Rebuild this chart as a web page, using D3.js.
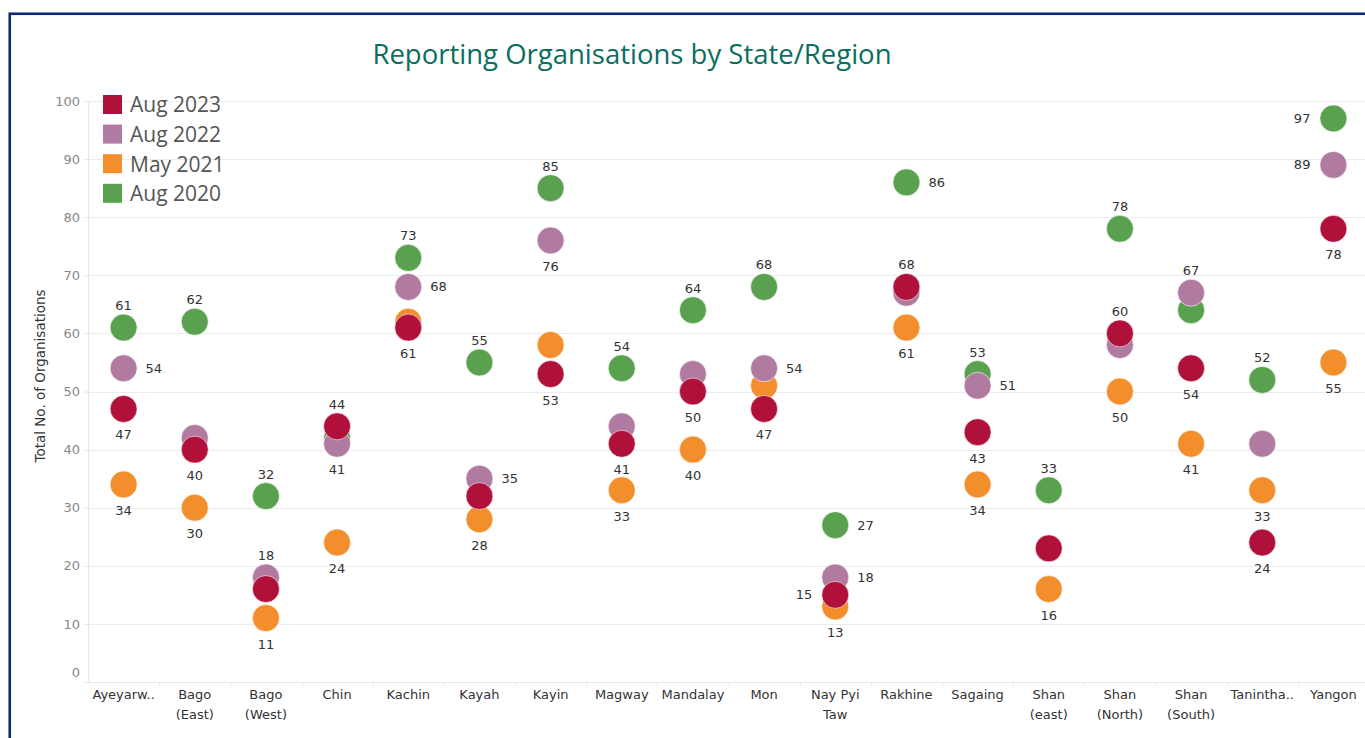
<!DOCTYPE html>
<html>
<head>
<meta charset="utf-8">
<title>Reporting Organisations by State/Region</title>
<script src="https://cdn.jsdelivr.net/npm/d3@7"></script>
<style>
  body { margin: 0; background: #fff; }
  svg { display: block; font-family: "DejaVu Sans", sans-serif; }
</style>
</head>
<body>
<svg id="chart" width="1365" height="738"></svg>
<script>
// categories (line breaks as in the axis)
var categories = ["Ayeyarw..", "Bago\n(East)", "Bago\n(West)", "Chin", "Kachin", "Kayah", "Kayin",
    "Magway", "Mandalay", "Mon", "Nay Pyi\nTaw", "Rakhine", "Sagaing", "Shan\n(east)",
    "Shan\n(North)", "Shan\n(South)", "Tanintha..", "Yangon"];

var aug2020 = [61, 62, 32, 42, 73, 55, 85, 54, 64, 68, 27, 86, 53, 33, 78, 64, 52, 97];
var may2021 = [34, 30, 11, 24, 62, 28, 58, 33, 40, 51, 13, 61, 34, 16, 50, 41, 33, 55];
var aug2022 = [54, 42, 18, 41, 68, 35, 76, 44, 53, 54, 18, 67, 51, null, 58, 67, 41, 89];
var aug2023 = [47, 40, 16, 44, 61, 32, 53, 41, 50, 47, 15, 68, 43, 23, 60, 54, 24, 78];

var yTicks = [0, 10, 20, 30, 40, 50, 60, 70, 80, 90, 100];

// legend order (top to bottom)
var legendNames = ["Aug 2023", "Aug 2022", "May 2021", "Aug 2020"];

// where each mark label sits: a = above, b = below, r = right, l = left, "" = none
var labelSide = {
    "Aug 2020": ["a","a","a","","a","a","a","a","a","a","r","r","a","a","a","","a","l"],
    "May 2021": ["b","b","b","b","","b","","b","b","","b","b","b","b","b","b","b","b"],
    "Aug 2022": ["r","","a","b","r","r","b","","","r","r","","r","","","a","","l"],
    "Aug 2023": ["b","b","","a","b","","b","b","b","b","l","a","b","","a","b","b","b"]
};

var colors = {
    "Aug 2023": "#b0113a",
    "Aug 2022": "#b07aa1",
    "May 2021": "#f28e2b",
    "Aug 2020": "#59a14f"
};

// drawing order: bottom to top
var series = [
    {name: "Aug 2020", values: aug2020},
    {name: "May 2021", values: may2021},
    {name: "Aug 2022", values: aug2022},
    {name: "Aug 2023", values: aug2023}
];

var svg = d3.select("#chart");
var margin = {top: 101, right: -4, bottom: 56, left: 88},
    width = +svg.attr("width"),
    height = +svg.attr("height");

var x = d3.scaleBand()
    .domain(categories)
    .range([margin.left, width - margin.right]);

var y = d3.scaleLinear()
    .domain([0, 100])
    .range([height - margin.bottom, margin.top]);

// frame
svg.append("rect")
    .attr("x", 9.75).attr("y", 13.75)
    .attr("width", width + 20).attr("height", height + 20)
    .attr("fill", "none")
    .attr("stroke", "#0b2a6e")
    .attr("stroke-width", 2.6);

// title
svg.append("text")
    .attr("x", 632).attr("y", 64)
    .attr("text-anchor", "middle")
    .attr("fill", "#0a6e60")
    .style("font-family", "'Open Sans', sans-serif")
    .style("font-size", "27.5px")
    .text("Reporting Organisations by State/Region");

// grid
svg.append("g")
    .selectAll("line")
    .data(yTicks.filter(d => d > 0))
    .join("line")
    .attr("x1", margin.left).attr("x2", width)
    .attr("y1", d => Math.round(y(d)) + 0.5).attr("y2", d => Math.round(y(d)) + 0.5)
    .attr("stroke", "#ececec");

// y axis
var yAxis = svg.append("g")
    .attr("transform", `translate(${margin.left},0)`)
    .call(d3.axisLeft(y).tickValues(yTicks).tickSize(4).tickPadding(4));
yAxis.select(".domain").attr("stroke", "#e6e6e6");
yAxis.selectAll(".tick line").attr("stroke", "#e6e6e6");
yAxis.selectAll(".tick text")
    .attr("fill", "#888")
    .style("font-family", "'DejaVu Sans', sans-serif")
    .style("font-size", "13px")
    .attr("dy", d => d === 0 ? "-0.45em" : "0.32em");

svg.append("text")
    .attr("transform", "translate(45,376) rotate(-90)")
    .attr("text-anchor", "middle")
    .attr("fill", "#333")
    .style("font-size", "13.5px")
    .text("Total No. of Organisations");

// x axis
var xAxis = svg.append("g")
    .attr("transform", `translate(0,${height - margin.bottom})`)
    .call(d3.axisBottom(x).tickSize(0).tickPadding(8));
xAxis.select(".domain").attr("stroke", "#e6e6e6");
xAxis.selectAll(".tick text").remove();
xAxis.selectAll(".tick").append("text")
    .attr("fill", "#333")
    .attr("text-anchor", "middle")
    .style("font-family", "'DejaVu Sans', sans-serif")
    .style("font-size", "13px")
    .selectAll("tspan")
    .data(d => d.split("\n"))
    .join("tspan")
    .attr("x", 0)
    .attr("y", (d, i) => 17 + i * 20)
    .text(d => d);

// band separators on the axis
svg.append("g")
    .selectAll("line")
    .data(categories.slice(1))
    .join("line")
    .attr("x1", d => Math.round(x(d)) + 0.5).attr("x2", d => Math.round(x(d)) + 0.5)
    .attr("y1", height - margin.bottom).attr("y2", height - margin.bottom + 5)
    .attr("stroke", "#eaeaea");

// dots
var r = 13.5;
var cx = c => x(c) + x.bandwidth() / 2;

series.forEach(function (s) {
    var pts = categories.map((c, i) => ({c: c, v: s.values[i], side: labelSide[s.name][i]}))
        .filter(d => d.v != null);
    svg.append("g")
        .selectAll("circle")
        .data(pts)
        .join("circle")
        .attr("cx", d => cx(d.c))
        .attr("cy", d => y(d.v))
        .attr("r", r)
        .attr("fill", colors[s.name])
        .attr("stroke", "#fff")
        .attr("stroke-opacity", 0.6)
        .attr("stroke-width", 1);
});

// labels on top
series.forEach(function (s) {
    var pts = categories.map((c, i) => ({c: c, v: s.values[i], side: labelSide[s.name][i]}))
        .filter(d => d.v != null && d.side);
    svg.append("g")
        .selectAll("text")
        .data(pts)
        .join("text")
        .attr("x", d => d.side === "r" ? cx(d.c) + 22 : d.side === "l" ? cx(d.c) - 23 : cx(d.c))
        .attr("y", d => d.side === "a" ? y(d.v) - 22 : d.side === "b" ? y(d.v) + 26 : y(d.v))
        .attr("dy", "0.35em")
        .attr("text-anchor", d => d.side === "r" ? "start" : d.side === "l" ? "end" : "middle")
        .attr("fill", "#333")
        .style("font-size", "13px")
        .text(d => d.v);
});

// legend
var legend = svg.append("g")
    .attr("transform", "translate(103,95)");
var item = legend.selectAll("g")
    .data(legendNames)
    .join("g")
    .attr("transform", (d, i) => `translate(0,${i * 29.6})`);
item.append("rect")
    .attr("width", 19).attr("height", 19)
    .attr("fill", d => colors[d]);
item.append("text")
    .attr("x", 27).attr("y", 10)
    .attr("dy", "0.35em")
    .attr("fill", "#555")
    .style("font-family", "'Open Sans', sans-serif")
    .style("font-size", "21px")
    .text(d => d);
</script>
</body>
</html>
